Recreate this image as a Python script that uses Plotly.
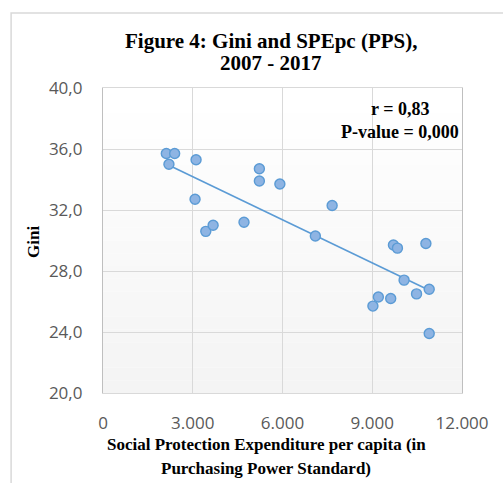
import numpy as np
import plotly.graph_objects as go

# Social protection expenditure per capita (PPS) and Gini coefficient
spe_pps = [2116, 2395, 2204, 3111, 3077, 3436, 3681, 4713, 5227, 5227, 5912,
           7659, 7098, 9708, 9842, 10793, 10064, 10904, 10480, 9204, 9617, 9022, 10904]
gini = [35.7, 35.7, 35.0, 35.3, 32.7, 30.6, 31.0, 31.2, 34.7, 33.9, 33.7,
        32.3, 30.3, 29.7, 29.5, 29.8, 27.4, 26.8, 26.5, 26.3, 26.2, 25.7, 23.9]

x_ticks = [0, 3000, 6000, 9000, 12000]
y_ticks = [20, 24, 28, 32, 36, 40]

title_lines = ["Figure 4: Gini and SPEpc (PPS),", "2007 - 2017"]
stats_lines = ["r = 0,83", "P-value = 0,000"]
x_title_lines = ["Social Protection Expenditure per capita (in", "Purchasing Power Standard)"]

SERIF = "Liberation Serif, Times New Roman, serif"
SANS = "Open Sans, DejaVu Sans, sans-serif"
BLUE = "#5B9BD5"

# linear trend line over the observed range
xa = np.array(spe_pps, dtype=float)
ya = np.array(gini, dtype=float)
slope, intercept = np.polyfit(xa, ya, 1)
trend_x = np.array([xa.min(), xa.max()])
trend_y = slope * trend_x + intercept

fig = go.Figure()

fig.add_trace(go.Scatter(
    x=trend_x, y=trend_y, mode="lines",
    line=dict(color=BLUE, width=1.6),
    hoverinfo="skip", showlegend=False,
))
fig.add_trace(go.Scatter(
    x=spe_pps, y=gini, mode="markers",
    marker=dict(size=10, color="#8EB4E3", line=dict(color=BLUE, width=1.4)),
    showlegend=False,
))

# soft vertical shading of the plot area (white at top, light grey at bottom)
n_strips = 24
for i in range(n_strips):
    t = i / (n_strips - 1)
    g = int(round(255 - 11 * t))
    fig.add_shape(
        type="rect", xref="x domain", yref="y domain",
        x0=0, x1=1, y0=1 - (i + 1) / n_strips, y1=1 - i / n_strips,
        fillcolor=f"rgb({g},{g},{g})", line=dict(width=0), layer="below",
    )

# outer chart frame
fig.add_shape(type="rect", xref="paper", yref="paper",
              x0=-0.256, x1=1.3, y0=-0.6, y1=1.246,
              line=dict(color="#D9D9D9", width=1.5), fillcolor="rgba(0,0,0,0)",
              layer="below")

# explicit pixel placement of the title, stats box and axis titles
W, H = 503, 483
ML, MR, MT, MB = 103, 41, 88, 90
PW, PH = W - ML - MR, H - MT - MB


def px_to_paper(px, py):
    return (px - ML) / PW, (H - MB - py) / PH


def add_text(text, px, py, size, angle=0, anchor="center"):
    xp, yp = px_to_paper(px, py)
    fig.add_annotation(text=text, x=xp, y=yp, xref="paper", yref="paper",
                       xanchor=anchor, yanchor="middle", showarrow=False,
                       textangle=angle,
                       font=dict(family=SERIF, size=size, color="black"))


add_text("<b>" + title_lines[0] + "</b>", 271, 41, 21)
add_text("<b>" + title_lines[1] + "</b>", 271, 63, 21)
add_text("<b>" + stats_lines[0] + "</b>", 400, 109, 18)
add_text("<b>" + stats_lines[1] + "</b>", 400, 132, 18)
add_text("<b>" + x_title_lines[0] + "</b>", 266, 444, 17)
add_text("<b>" + x_title_lines[1] + "</b>", 266, 468, 17)
add_text("<b>Gini</b>", 34, 242, 17, angle=-90)

fig.update_layout(
    width=W, height=H,
    margin=dict(l=ML, r=MR, t=MT, b=MB),
    paper_bgcolor="white", plot_bgcolor="rgba(0,0,0,0)",
    separators=",.",
    font=dict(family=SANS, size=17, color="#595959"),
)

fig.update_xaxes(
    range=[0, 12000], tickvals=x_ticks, tickformat=",d",
    showgrid=True, gridcolor="#D9D9D9", gridwidth=1.3,
    showline=True, linecolor="#D9D9D9", linewidth=1.3, mirror=True,
    zeroline=False, ticks="", ticklabelstandoff=14,
    tickfont=dict(family=SANS, size=17, color="#595959"),
)
fig.update_yaxes(
    range=[20, 40], tickvals=y_ticks, tickformat=".1f",
    showgrid=True, gridcolor="#D9D9D9", gridwidth=1.3,
    showline=True, linecolor="#BFBFBF", linewidth=1.3, mirror=True,
    zeroline=False, ticks="", ticklabelstandoff=16,
    tickfont=dict(family=SANS, size=17, color="#595959"),
)

fig.write_html("out.html")
